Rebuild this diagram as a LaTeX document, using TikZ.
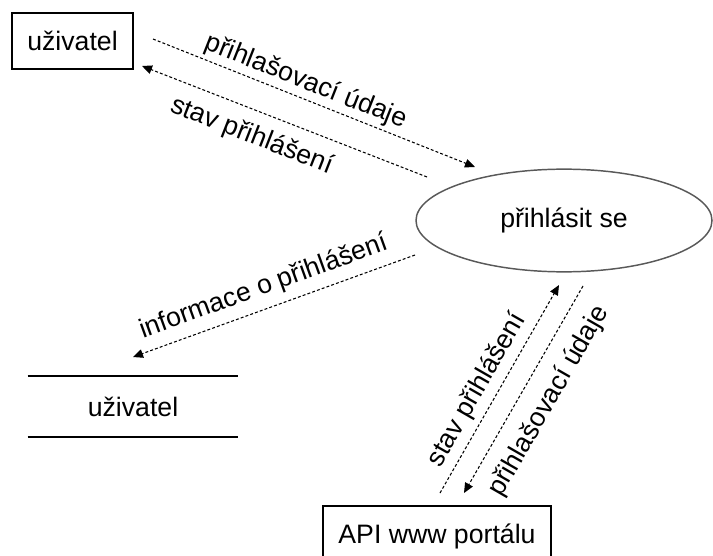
\documentclass[tikz,border=0pt]{standalone}
\usepackage{fontspec}
\setmainfont{Liberation Sans}
\usetikzlibrary{arrows.meta,shapes.geometric}

\begin{document}
\begin{tikzpicture}[x=0.75pt,y=-0.75pt,
    txt/.style={font=\fontsize{20}{24}\selectfont,inner sep=0pt},
    flow/.style={densely dashed,line width=0.8pt,dash pattern=on 2.2pt off 1.6pt,
      -{Triangle[length=7.5pt,width=6.5pt]}},
    entity/.style={draw,line width=1.2pt,txt},
    proc/.style={ellipse,draw=black!65,line width=1.1pt,txt}]
  \useasboundingbox (0,0) rectangle (713,556);
  % entities, process, data store
  \node[entity,minimum width=90.75pt,minimum height=42pt] (user) at (72.5,41) {uživatel};
  \node[proc,minimum width=222pt,minimum height=77pt] (login) at (564,220.5) {přihlásit se};
  \node[txt,minimum width=157.5pt,minimum height=45.75pt] (store) at (133,406.5) {uživatel};
  \draw[line width=1.5pt] (store.north west) -- (store.north east);
  \draw[line width=1.5pt] (store.south west) -- (store.south east);
  \node[entity,anchor=north,minimum width=171pt,inner ysep=8.5pt,text height=20pt,text depth=40pt] (api) at (437,505) {API www portálu};
  % arrow ends
  \coordinate (u1) at (153,39);   \coordinate (p1) at (475,167);
  \coordinate (p2) at (427,177);  \coordinate (u2) at (142,66);
  \coordinate (p3) at (415,255);  \coordinate (s3) at (133,357);
  \coordinate (a4) at (440,493);  \coordinate (p4) at (559,285);
  \coordinate (p5) at (583,286);  \coordinate (a5) at (464,493);
  % flows
  \draw[flow] (u1) -- (p1);
  \draw[flow] (p2) -- (u2);
  \draw[flow] (p3) -- (s3);
  \draw[flow] (a4) -- (p4);
  \draw[flow] (p5) -- (a5);
  % labels
  \node[txt,rotate=-21.6] (l1) at (306,82) {přihlašovací údaje};
  \node[txt,rotate=-21.4] (l2) at (252,136) {stav přihlášení};
  \node[txt,rotate=19.9] (l3) at (264,287) {informace o přihlášení};
  \node[txt,rotate=60.2] (l4) at (477,390) {stav přihlášení};
  \node[txt,rotate=60.1] (l5) at (549,401) {přihlašovací údaje};
\end{tikzpicture}
\end{document}
